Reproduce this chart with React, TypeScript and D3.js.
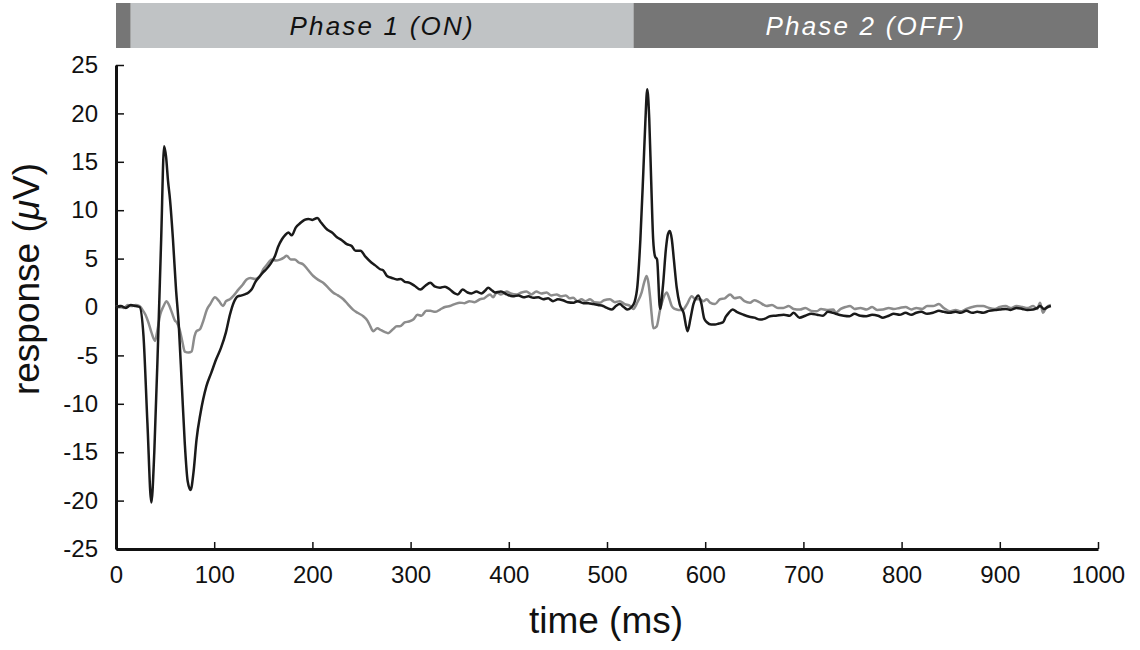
import React, { useEffect, useRef } from "react";
import * as d3 from "d3";

// black trace (ms, µV)
const blackTime = [0, 5, 10, 15, 20, 24, 28, 32, 36, 39, 43, 46, 49, 51, 53, 55, 58, 61, 64, 67, 70, 73, 76, 79, 82, 86, 92, 97, 102, 107, 112, 116, 120, 124, 128, 131, 135, 138, 142, 146.6, 150, 153, 157, 162, 165, 169, 172, 175.5, 179, 183, 188, 192, 196, 200, 205, 209, 215, 220, 225, 230, 235, 240, 244, 249, 254, 260, 264, 269, 272, 276, 281, 286, 290, 294, 299, 304, 310, 315, 320, 325, 330, 335, 340, 345, 348, 353, 358, 362, 367, 372, 376, 379, 383, 386, 392, 398, 404, 410, 415, 420, 425, 430, 435, 440, 445, 450, 455, 460, 466, 470, 476, 481, 486, 491, 496, 500, 505, 509, 513, 517, 521, 525, 528, 531, 534, 537, 539, 541, 543, 545, 547, 549, 551, 554, 557, 560, 562, 564, 566, 568, 571, 574, 578, 582, 585, 588, 591, 593, 596, 599, 602, 606, 610, 614, 618, 621, 624, 628, 632, 639, 645, 650, 656, 661, 666, 672, 680, 686, 690, 696, 702, 708, 714, 720, 725, 730, 736, 741, 747, 752, 758, 764, 770, 776, 781, 787, 792, 798, 804, 810, 815, 820, 826, 832, 838, 843, 849, 855, 860, 866, 872, 877, 883, 889, 895, 900, 906, 911, 917, 923, 928, 934, 938, 941, 945, 949, 952];
const blackValues = [0, 0.1, -0.1, 0.2, 0.1, 0, -3, -12, -20.2, -15, -3, 7, 16.6, 15.5, 13, 11.1, 7, 2, -2, -8, -14, -18, -18.9, -17, -13.7, -11, -8.2, -6.8, -5.4, -4.2, -2.6, -0.8, 0.5, 1.1, 1.2, 1.3, 1.5, 1.8, 2.6, 3.2, 3.6, 3.9, 4.4, 5.3, 6.2, 7.0, 7.4, 7.7, 7.4, 8.2, 8.7, 9.0, 9.1, 9.0, 9.2, 8.7, 8.0, 7.7, 7.2, 6.9, 6.5, 6.3, 5.8, 5.8, 5.2, 4.6, 4.3, 3.9, 3.8, 3.2, 3.0, 2.85, 2.9, 2.6, 2.5, 2.2, 1.8, 2.2, 2.5, 2.1, 2.0, 2.1, 1.8, 1.4, 1.3, 1.8, 1.5, 1.4, 1.6, 1.4, 1.7, 2.0, 1.7, 1.5, 1.6, 1.3, 1.1, 1.2, 1.0, 1.1, 0.95, 1.0, 0.8, 0.9, 0.6, 0.8, 0.7, 0.5, 0.45, 0.6, 0.4, 0.4, 0.3, 0.2, 0.1, -0.1, -0.26, 0.1, 0.3, 0.0, -0.26, 0.0, 0.5, 2.2, 7, 14, 19, 22.5, 19.5, 13, 7, 5.2, 4.9, -0.2, 2.2, 6.0, 7.5, 7.85, 7.0, 5.0, 2.0, 0.3, -0.6, -2.5, -1.2, 0.3, 1.0, 1.2, 0.4, -1.2, -1.6, -1.8, -1.8, -1.7, -1.6, -1.0, -0.6, -0.26, -0.5, -0.8, -1.0, -1.1, -1.3, -1.2, -0.95, -0.9, -0.8, -0.9, -0.6, -1.1, -0.9, -0.7, -0.8, -0.9, -0.5, -0.6, -0.8, -0.9, -0.95, -0.7, -0.9, -0.95, -0.8, -0.9, -1.1, -0.9, -0.7, -0.8, -0.6, -0.8, -0.6, -0.5, -0.7, -0.6, -0.4, -0.5, -0.6, -0.5, -0.6, -0.4, -0.6, -0.5, -0.6, -0.4, -0.3, -0.26, -0.2, -0.3, -0.1, -0.2, -0.3, -0.26, -0.1, 0.1, -0.2, 0.0, 0.1];

// gray trace (ms, µV)
const grayTime = [0, 4, 8, 12, 16, 20, 24, 27, 30, 33, 36, 39.7, 42, 45, 48, 51.6, 54, 57, 60, 62, 65, 68, 70, 74, 77, 80, 82, 85.5, 89, 92.4, 96, 100.8, 105, 109, 112, 116, 120, 124.6, 129, 133, 137, 141.5, 146, 150, 154, 158.6, 163, 167, 171, 173.8, 178, 182, 186, 190.7, 195, 200.9, 206, 211, 216, 221, 226, 231.5, 236, 241.6, 246, 251.8, 256, 259, 262, 266, 270, 274, 277, 282, 286, 289, 294, 298, 302.7, 307, 311, 316, 320, 325, 330, 335, 340, 345, 350, 355, 360, 365, 370.7, 375, 380.9, 384, 387.7, 392, 397.8, 402, 408, 413, 418, 423, 428, 433, 438.5, 443, 448.7, 453, 458, 462, 465.6, 470, 474, 478, 482.7, 487, 492.9, 497, 503, 508, 513, 518, 523.6, 526.8, 531, 535.3, 538, 540.4, 542, 543.8, 545.5, 547.2, 550.6, 554, 557, 560.8, 563, 565.9, 569, 572.7, 577, 581, 586.3, 590, 594.7, 598, 601.6, 605, 610, 615, 620, 625.3, 630, 635, 640, 645.6, 650, 655, 662.6, 668, 674, 679.6, 685, 690, 696.5, 702, 708, 713.5, 718, 724, 730.5, 733, 738, 743, 747.5, 752, 758, 764.5, 770, 775, 781, 787, 792, 798, 804, 810, 815, 821, 826, 832, 838, 843, 849, 855, 860, 866, 872, 877, 883, 889, 895, 900, 906, 911, 917, 923, 928, 934, 938, 941, 944, 947, 952];
const grayValues = [0, 0.1, -0.1, 0.2, 0.1, 0.2, 0.1, -0.3, -0.8, -1.6, -2.6, -3.5, -2.5, -0.8, 0, 0.6, 0.2, -0.6, -1.4, -1.6, -2.4, -3.8, -4.6, -4.7, -4.6, -3.0, -2.5, -2.3, -1.4, -0.3, 0.3, 1.0, 0.6, 0.1, 0.6, 0.8, 1.2, 1.8, 2.3, 2.85, 3.0, 2.9, 3.1, 3.9, 4.4, 4.9, 4.8, 4.9, 5.1, 5.3, 4.9, 4.9, 4.6, 4.4, 3.9, 3.2, 2.8, 2.5, 2.0, 1.5, 1.2, 0.8, 0.3, -0.3, -0.6, -0.95, -1.4, -2.0, -2.5, -2.2, -2.4, -2.6, -2.7, -2.3, -2.0, -2.0, -1.6, -1.5, -1.3, -0.8, -0.9, -0.4, -0.4, -0.5, -0.26, 0.0, 0.1, 0.3, 0.45, 0.4, 0.6, 0.5, 0.8, 0.9, 1.3, 1.0, 1.5, 1.3, 1.6, 1.4, 1.3, 1.5, 1.6, 1.3, 1.6, 1.4, 1.5, 1.2, 1.3, 1.1, 1.2, 0.9, 0.95, 0.6, 0.8, 0.6, 0.8, 0.5, 0.45, 0.7, 0.8, 0.5, 0.6, 0.3, 0.1, -0.2, 0.5, 1.5, 2.6, 3.2, 2.6, 1.1, -0.8, -2.2, -2.0, -0.3, 0.8, 1.5, 1.0, 0.1, -0.2, -0.3, -0.3, 0.2, 1.1, 0.8, 0.8, 0.6, 0.8, 0.45, 0.3, 0.8, 0.9, 1.3, 0.9, 1.0, 0.6, 0.45, 0.7, 0.5, 0.1, 0.2, -0.1, -0.1, 0.1, -0.2, -0.26, -0.1, -0.4, -0.45, -0.2, -0.3, -0.26, -0.6, -0.2, 0.0, 0.1, -0.2, -0.1, -0.26, 0.0, -0.3, -0.26, -0.1, -0.2, -0.1, 0.0, -0.26, -0.1, -0.2, 0.1, 0.1, 0.3, -0.1, -0.45, -0.3, -0.45, -0.2, 0.0, 0.1, 0.1, -0.1, -0.2, 0.0, 0.1, -0.1, 0.1, 0.0, -0.1, 0.1, -0.2, 0.45, -0.6, -0.1, 0.2];

const xTicks = [0, 100, 200, 300, 400, 500, 600, 700, 800, 900, 1000];
const yTicks = [25, 20, 15, 10, 5, 0, -5, -10, -15, -20, -25];

// stimulus phases along the top
const phaseStart = [0, 15, 527];
const phaseEnd = [15, 527, 1000];
const phaseLabels = ["", "Phase 1 (ON)", "Phase 2 (OFF)"];

const W = 1140;
const H = 650;
const FONT = "'Liberation Sans', Arial, Helvetica, sans-serif";

export default function App() {
  const ref = useRef<SVGSVGElement | null>(null);

  useEffect(() => {
    const svg = d3.select(ref.current);
    svg.selectAll("*").remove();

    const x = d3.scaleLinear().domain([0, 1000]).range([116, 1098]);
    const y = d3.scaleLinear().domain([-25, 25]).range([549, 65]);

    // phase bar
    const phases = svg.append("g");
    phaseStart.forEach((s, i) => {
      phases.append("rect")
        .attr("x", x(s))
        .attr("y", 3)
        .attr("width", x(phaseEnd[i]) - x(s))
        .attr("height", 45)
        .attr("fill", i == 1 ? "#c0c3c5" : "#767676");
      if (phaseLabels[i]) {
        phases.append("text")
          .attr("x", (x(s) + x(phaseEnd[i])) / 2)
          .attr("y", 35)
          .attr("text-anchor", "middle")
          .style("font-family", FONT)
          .style("font-size", "26px")
          .style("font-style", "italic")
          .style("letter-spacing", "2.2px")
          .attr("fill", i == 1 ? "#111" : "#fff")
          .text(phaseLabels[i]);
      }
    });

    // axes, plain hyphen minus like the original
    const fmt = (d: any) => String(d);
    const yAxis = svg.append("g")
      .attr("transform", "translate(116,0)")
      .call(d3.axisLeft(y).tickValues(yTicks).tickSizeInner(-8).tickSizeOuter(0).tickPadding(18).tickFormat(fmt));
    const xAxis = svg.append("g")
      .attr("transform", "translate(0,549)")
      .call(d3.axisBottom(x).tickValues(xTicks).tickSizeInner(-7).tickSizeOuter(0).tickPadding(17).tickFormat(fmt));

    [yAxis, xAxis].forEach(a => {
      a.select(".domain").attr("stroke", "#111").attr("stroke-width", 3);
      a.selectAll(".tick line").attr("stroke", "#111").attr("stroke-width", 1.5);
      a.selectAll(".tick text")
        .attr("fill", "#111")
        .style("font-family", FONT)
        .style("font-size", "24px");
    });

    // traces
    const line = d3.line<number>()
      .curve(d3.curveMonotoneX);

    svg.append("path")
      .attr("d", line.x(d => x(grayTime[d])).y(d => y(grayValues[d]))(d3.range(grayTime.length)))
      .attr("fill", "none")
      .attr("stroke", "#8c8c8c")
      .attr("stroke-width", 2.5)
      .attr("stroke-linejoin", "round");

    svg.append("path")
      .attr("d", line.x(d => x(blackTime[d])).y(d => y(blackValues[d]))(d3.range(blackTime.length)))
      .attr("fill", "none")
      .attr("stroke", "#1a1a1a")
      .attr("stroke-width", 2.5)
      .attr("stroke-linejoin", "round");

    // axis titles
    svg.append("text")
      .attr("x", 606)
      .attr("y", 633)
      .attr("text-anchor", "middle")
      .style("font-family", FONT)
      .style("font-size", "37px")
      .attr("fill", "#111")
      .text("time (ms)");

    const yl = svg.append("text")
      .attr("transform", "translate(39,279) rotate(-90)")
      .attr("text-anchor", "middle")
      .style("font-family", FONT)
      .style("font-size", "37px")
      .attr("fill", "#111");
    yl.append("tspan").text("response (");
    yl.append("tspan").style("font-style", "italic").text("\u03bc");
    yl.append("tspan").text("V)");
  }, []);

  return (
    <svg ref={ref} width={W} height={H} style={{ position: "absolute", left: 0, top: 0, background: "#fff" }} />
  );
}
